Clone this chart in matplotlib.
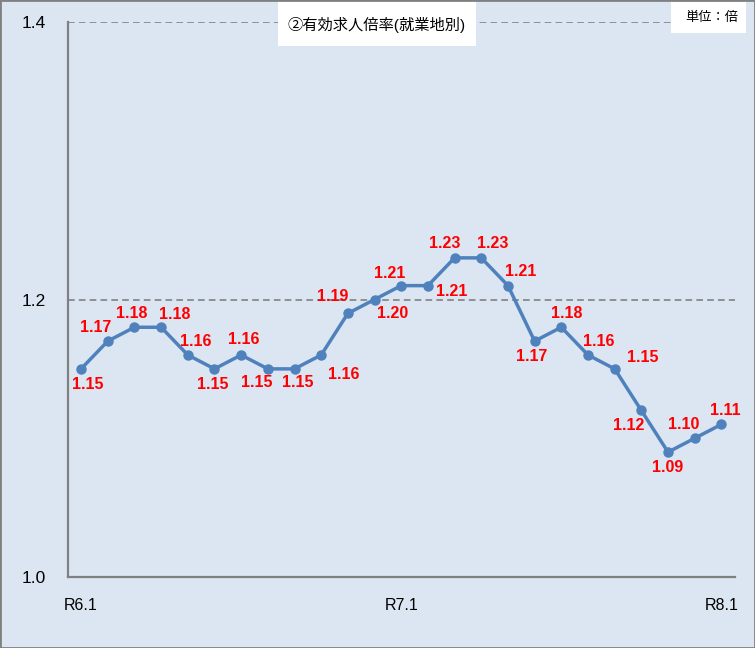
import matplotlib.pyplot as plt
from matplotlib.patches import Rectangle

plt.rcParams['font.family'] = ['Liberation Sans', 'Noto Sans CJK JP', 'DejaVu Sans']

months = list(range(25))
values = [1.15, 1.17, 1.18, 1.18, 1.16, 1.15, 1.16, 1.15, 1.15, 1.16, 1.19, 1.20, 1.21,
          1.21, 1.23, 1.23, 1.21, 1.17, 1.18, 1.16, 1.15, 1.12, 1.09, 1.10, 1.11]
tick_pos = [0, 12, 24]
tick_labels = ['R6.1', 'R7.1', 'R8.1']
y_ticks = [1.0, 1.2, 1.4]
title = '②有効求人倍率(就業地別)'
unit = '単位：倍'

# label offsets in points (dx, dy) relative to each marker
offsets = [(5, -11), (-9, 10), (-2, 10), (10, 9), (6, 10), (-1, -11), (2, 11), (-8, -10),
           (2, -10), (16, -14), (-11, 12), (13, -10), (-8, 9), (17, -4), (-7, 10), (8, 10),
           (9, 10), (-2, -11), (4, 10), (8, 10), (20, 8), (-9, -11), (0, -11), (-8, 10), (3, 10)]

bg = '#dce6f2'
fig = plt.figure(figsize=(7.55, 6.48), dpi=100, facecolor=bg)
ax = fig.add_axes([68/755, 1-577/648, (735-68)/755, (577-22)/648], facecolor=bg)

ax.plot(months, values, color='#4f81bd', lw=2.5, marker='o', ms=6.5, zorder=3)
for x, v, (dx, dy) in zip(months, values, offsets):
    ax.annotate(f'{v:.2f}', (x, v), xytext=(dx, dy), textcoords='offset points',
                ha='center', va='center', color='red', fontsize=11.5, fontweight='bold')

ax.set_ylim(1.0, 1.4)
ax.set_yticks(y_ticks)
ax.set_yticklabels([f'{t:.1f}' for t in y_ticks], fontsize=12.5)
ax.set_xticks(tick_pos)
ax.set_xticklabels(tick_labels, fontsize=11.5)
ax.set_xlim(-0.49, 24.51)
ax.tick_params(axis='both', length=0)
ax.tick_params(axis='y', pad=16)
ax.tick_params(axis='x', pad=15)
for t in [1.2, 1.4]:
    ax.axhline(t, color='#808080', ls=(0, (4, 2.5)), lw=1.2, zorder=1)
for s in ['top', 'right']:
    ax.spines[s].set_visible(False)
for s in ['left', 'bottom']:
    ax.spines[s].set_color('#808080')
    ax.spines[s].set_linewidth(1.6)

# title box and unit box
fig.patches.append(Rectangle((278/755, 1-46/648), 198/755, 45/648, transform=fig.transFigure,
                             facecolor='white', edgecolor='none', zorder=5))
fig.text(377/755, 1-25/648, title, ha='center', va='center', fontsize=11, zorder=6)
fig.patches.append(Rectangle((671/755, 1-33/648), 75/755, 31/648, transform=fig.transFigure,
                             facecolor='white', edgecolor='none', zorder=5))
fig.text(712/755, 1-18/648, unit, ha='center', va='center', fontsize=9.5, zorder=6)

fig.patches.append(Rectangle((0, 0), 1, 1, transform=fig.transFigure, fill=False,
                             edgecolor='#808080', lw=2, zorder=10))

plt.savefig('out.png', dpi=100, facecolor=bg)
